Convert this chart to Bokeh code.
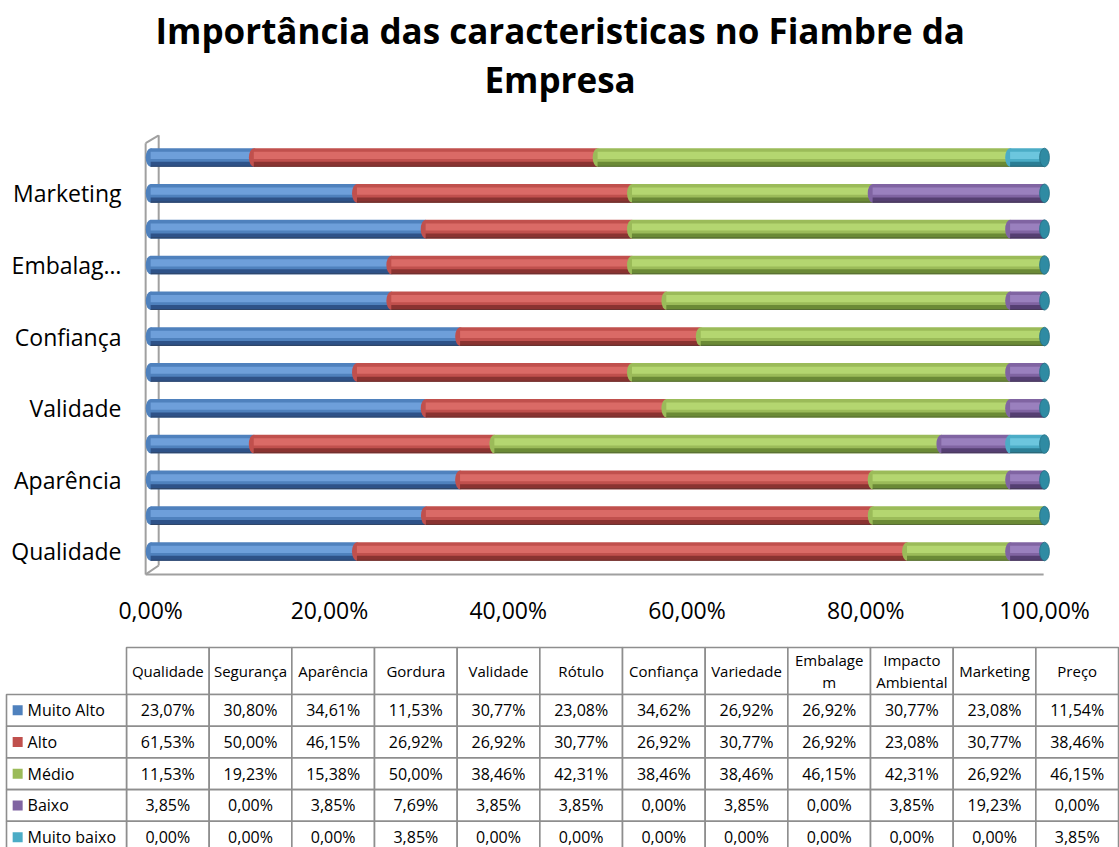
import numpy as np
from bokeh.plotting import figure
from bokeh.models import Range1d, FixedTicker, Title, ColumnDataSource
from bokeh.embed import file_html
from bokeh.resources import INLINE
from bokeh.core.properties import value

# ---------------- data ----------------
title_line1 = "Importância das caracteristicas no Fiambre da"
title_line2 = "Empresa"
categories = ["Qualidade", "Segurança", "Aparência", "Gordura", "Validade", "Rótulo",
              "Confiança", "Variedade", "Embalagem", "Impacto Ambiental", "Marketing", "Preço"]
header_labels = ["Qualidade", "Segurança", "Aparência", "Gordura", "Validade", "Rótulo",
                 "Confiança", "Variedade", "Embalage\nm", "Impacto\nAmbiental", "Marketing", "Preço"]
y_tick_positions = [0, 2, 4, 6, 8, 10]
y_tick_labels = ["Qualidade", "Aparência", "Validade", "Confiança", "Embalag…", "Marketing"]
series_names = ["Muito Alto", "Alto", "Médio", "Baixo", "Muito baixo"]
muito_alto = [23.07, 30.80, 34.61, 11.53, 30.77, 23.08, 34.62, 26.92, 26.92, 30.77, 23.08, 11.54]
alto = [61.53, 50.00, 46.15, 26.92, 26.92, 30.77, 26.92, 30.77, 26.92, 23.08, 30.77, 38.46]
medio = [11.53, 19.23, 15.38, 50.00, 38.46, 42.31, 38.46, 38.46, 46.15, 42.31, 26.92, 46.15]
baixo = [3.85, 0.00, 3.85, 7.69, 3.85, 3.85, 0.00, 3.85, 0.00, 3.85, 19.23, 0.00]
muito_baixo = [0.00, 0.00, 0.00, 3.85, 0.00, 0.00, 0.00, 0.00, 0.00, 0.00, 0.00, 3.85]
x_ticks = [0, 20, 40, 60, 80, 100]
x_tick_labels = ["0,00%", "20,00%", "40,00%", "60,00%", "80,00%", "100,00%"]

# ---------------- styles ----------------
base_colors = ["#4F81BD", "#C0504D", "#9BBB59", "#8064A2", "#4BACC6"]
light_colors = ["#6E9FDA", "#DA6A66", "#B4D670", "#9A80BE", "#6CC6DE"]
dark_colors = ["#2E5288", "#8A3331", "#6B8A36", "#553F72", "#2B7E95"]
cap_color = "#2F8BA3"
wall_color = "#A0A0A0"
FONT = "Open Sans"

series_values = [muito_alto, alto, medio, baixo, muito_baixo]
vals = np.array(series_values, dtype=float)
totals = vals.sum(axis=0)
pct = vals / totals * 100.0
cum_right = np.cumsum(pct, axis=0)
cum_left = cum_right - pct
ypos = np.arange(len(categories))

# ---------------- chart ----------------
p = figure(width=1119, height=640, x_range=Range1d(-0.8, 100.67), y_range=Range1d(-0.698, 11.642),
           output_backend="svg", toolbar_location=None,
           min_border_left=143, min_border_right=69, min_border_bottom=64, min_border_top=134)
p.outline_line_color = None
p.grid.visible = False
p.background_fill_color = "white"

spacer = Title(text=" ", text_font=FONT, text_font_size="10px", standoff=16)
t2 = Title(text=title_line2, align="left", text_font=FONT, text_font_size="35px",
           text_font_style="bold", text_color="black", standoff=0, offset=341)
t1 = Title(text=title_line1, align="left", text_font=FONT, text_font_size="35px",
           text_font_style="bold", text_color="black", standoff=0, offset=12)
p.add_layout(spacer, "above")
p.add_layout(t2, "above")
p.add_layout(t1, "above")

# 3D wall and floor
WX0, WX1 = -0.56, 0.9
p.segment(x0=[WX0, WX0, WX1, WX1, WX0], y0=[-0.64, 11.4, 11.62, -0.39, -0.64],
          x1=[WX0, WX1, WX1, WX0, 99.9], y1=[11.4, 11.62, -0.39, -0.64, -0.64],
          line_color=wall_color, line_width=2)

BAR_H = 0.52
for s in range(len(series_names)):
    mask = pct[s] > 0
    src = ColumnDataSource(dict(y=ypos[mask], left=cum_left[s][mask], right=cum_right[s][mask]))
    p.ellipse(x="left", y="y", width=1.1, height=BAR_H, source=src,
              fill_color=base_colors[s], line_color=None)
    p.hbar(y="y", left="left", right="right", height=BAR_H, source=src,
           fill_color=base_colors[s], line_color=None)
    p.hbar(y=ypos[mask] + 0.06, left=cum_left[s][mask], right=cum_right[s][mask], height=0.2,
           fill_color=light_colors[s], line_color=None)
    p.hbar(y=ypos[mask] - 0.19, left=cum_left[s][mask], right=cum_right[s][mask], height=0.14,
           fill_color=dark_colors[s], line_color=None)
    p.hbar(y=ypos[mask] - 0.245, left=cum_left[s][mask], right=cum_right[s][mask], height=0.03,
           fill_color="#303030", fill_alpha=0.35, line_color=None)

# end caps (top face of the cylinders)
p.ellipse(x=cum_right[-1], y=ypos, width=1.1, height=BAR_H, fill_color=cap_color,
          line_color="#256F84", line_width=0.8)

p.xaxis.ticker = FixedTicker(ticks=x_ticks)
p.xaxis.major_label_overrides = dict(zip(x_ticks, x_tick_labels))
p.yaxis.ticker = FixedTicker(ticks=y_tick_positions)
p.yaxis.major_label_overrides = dict(zip(y_tick_positions, y_tick_labels))
for ax in (p.xaxis[0], p.yaxis[0]):
    ax.axis_line_color = None
    ax.major_tick_line_color = None
    ax.minor_tick_line_color = None
    ax.major_tick_out = 0
    ax.major_tick_in = 0
    ax.major_label_text_font = FONT
    ax.major_label_text_font_size = "23px"
    ax.major_label_text_color = "black"
p.xaxis.major_label_standoff = 17
p.yaxis.major_label_standoff = 22

# ---------------- data table ----------------
LEG_W = 1.4516
HEADER_H = 1.4826
ncol = len(categories)
nrow = len(series_names)
t = figure(width=1119, height=207, x_range=Range1d(-1.5242, 12.0116), y_range=Range1d(-4.8265, 1.7035),
           output_backend="svg", toolbar_location=None, min_border=0)
t.axis.visible = False
t.grid.visible = False
t.outline_line_color = None

cols = np.arange(ncol)
grid_col = "#8E8E8E"
t.quad(left=cols, right=cols + 1, top=HEADER_H, bottom=0, fill_color="white",
       line_color=grid_col, line_width=1.6)
rr, cc = np.meshgrid(np.arange(nrow), cols, indexing="ij")
t.quad(left=cc.ravel(), right=cc.ravel() + 1, top=-rr.ravel(), bottom=-rr.ravel() - 1,
       fill_color="white", line_color=grid_col, line_width=1.6)
rows = np.arange(nrow)
t.quad(left=-LEG_W, right=0, top=-rows, bottom=-rows - 1, fill_color="white",
       line_color=grid_col, line_width=1.6)

t.text(x=cols + 0.5, y=HEADER_H / 2, text=header_labels, text_align="center",
       text_baseline="middle", text_font=value(FONT), text_font_size="15px",
       text_color="black", text_line_height=1.1)
cell_text = [f"{v:.2f}".replace(".", ",") + "%" for v in vals.ravel()]
t.text(x=cc.ravel() + 0.5, y=-rr.ravel() - 0.5, text=cell_text, text_align="center",
       text_baseline="middle", text_font=value(FONT), text_font_size="16px", text_color="black")
t.scatter(x=-LEG_W + 0.135, y=-rows - 0.5, marker="square", size=10, fill_color=base_colors,
          line_color=None)
t.text(x=-LEG_W + 0.255, y=-rows - 0.5, text=series_names, text_align="left",
       text_baseline="middle", text_font=value(FONT), text_font_size="16px", text_color="black")

open("out.html", "w").write(file_html([p, t], INLINE))
